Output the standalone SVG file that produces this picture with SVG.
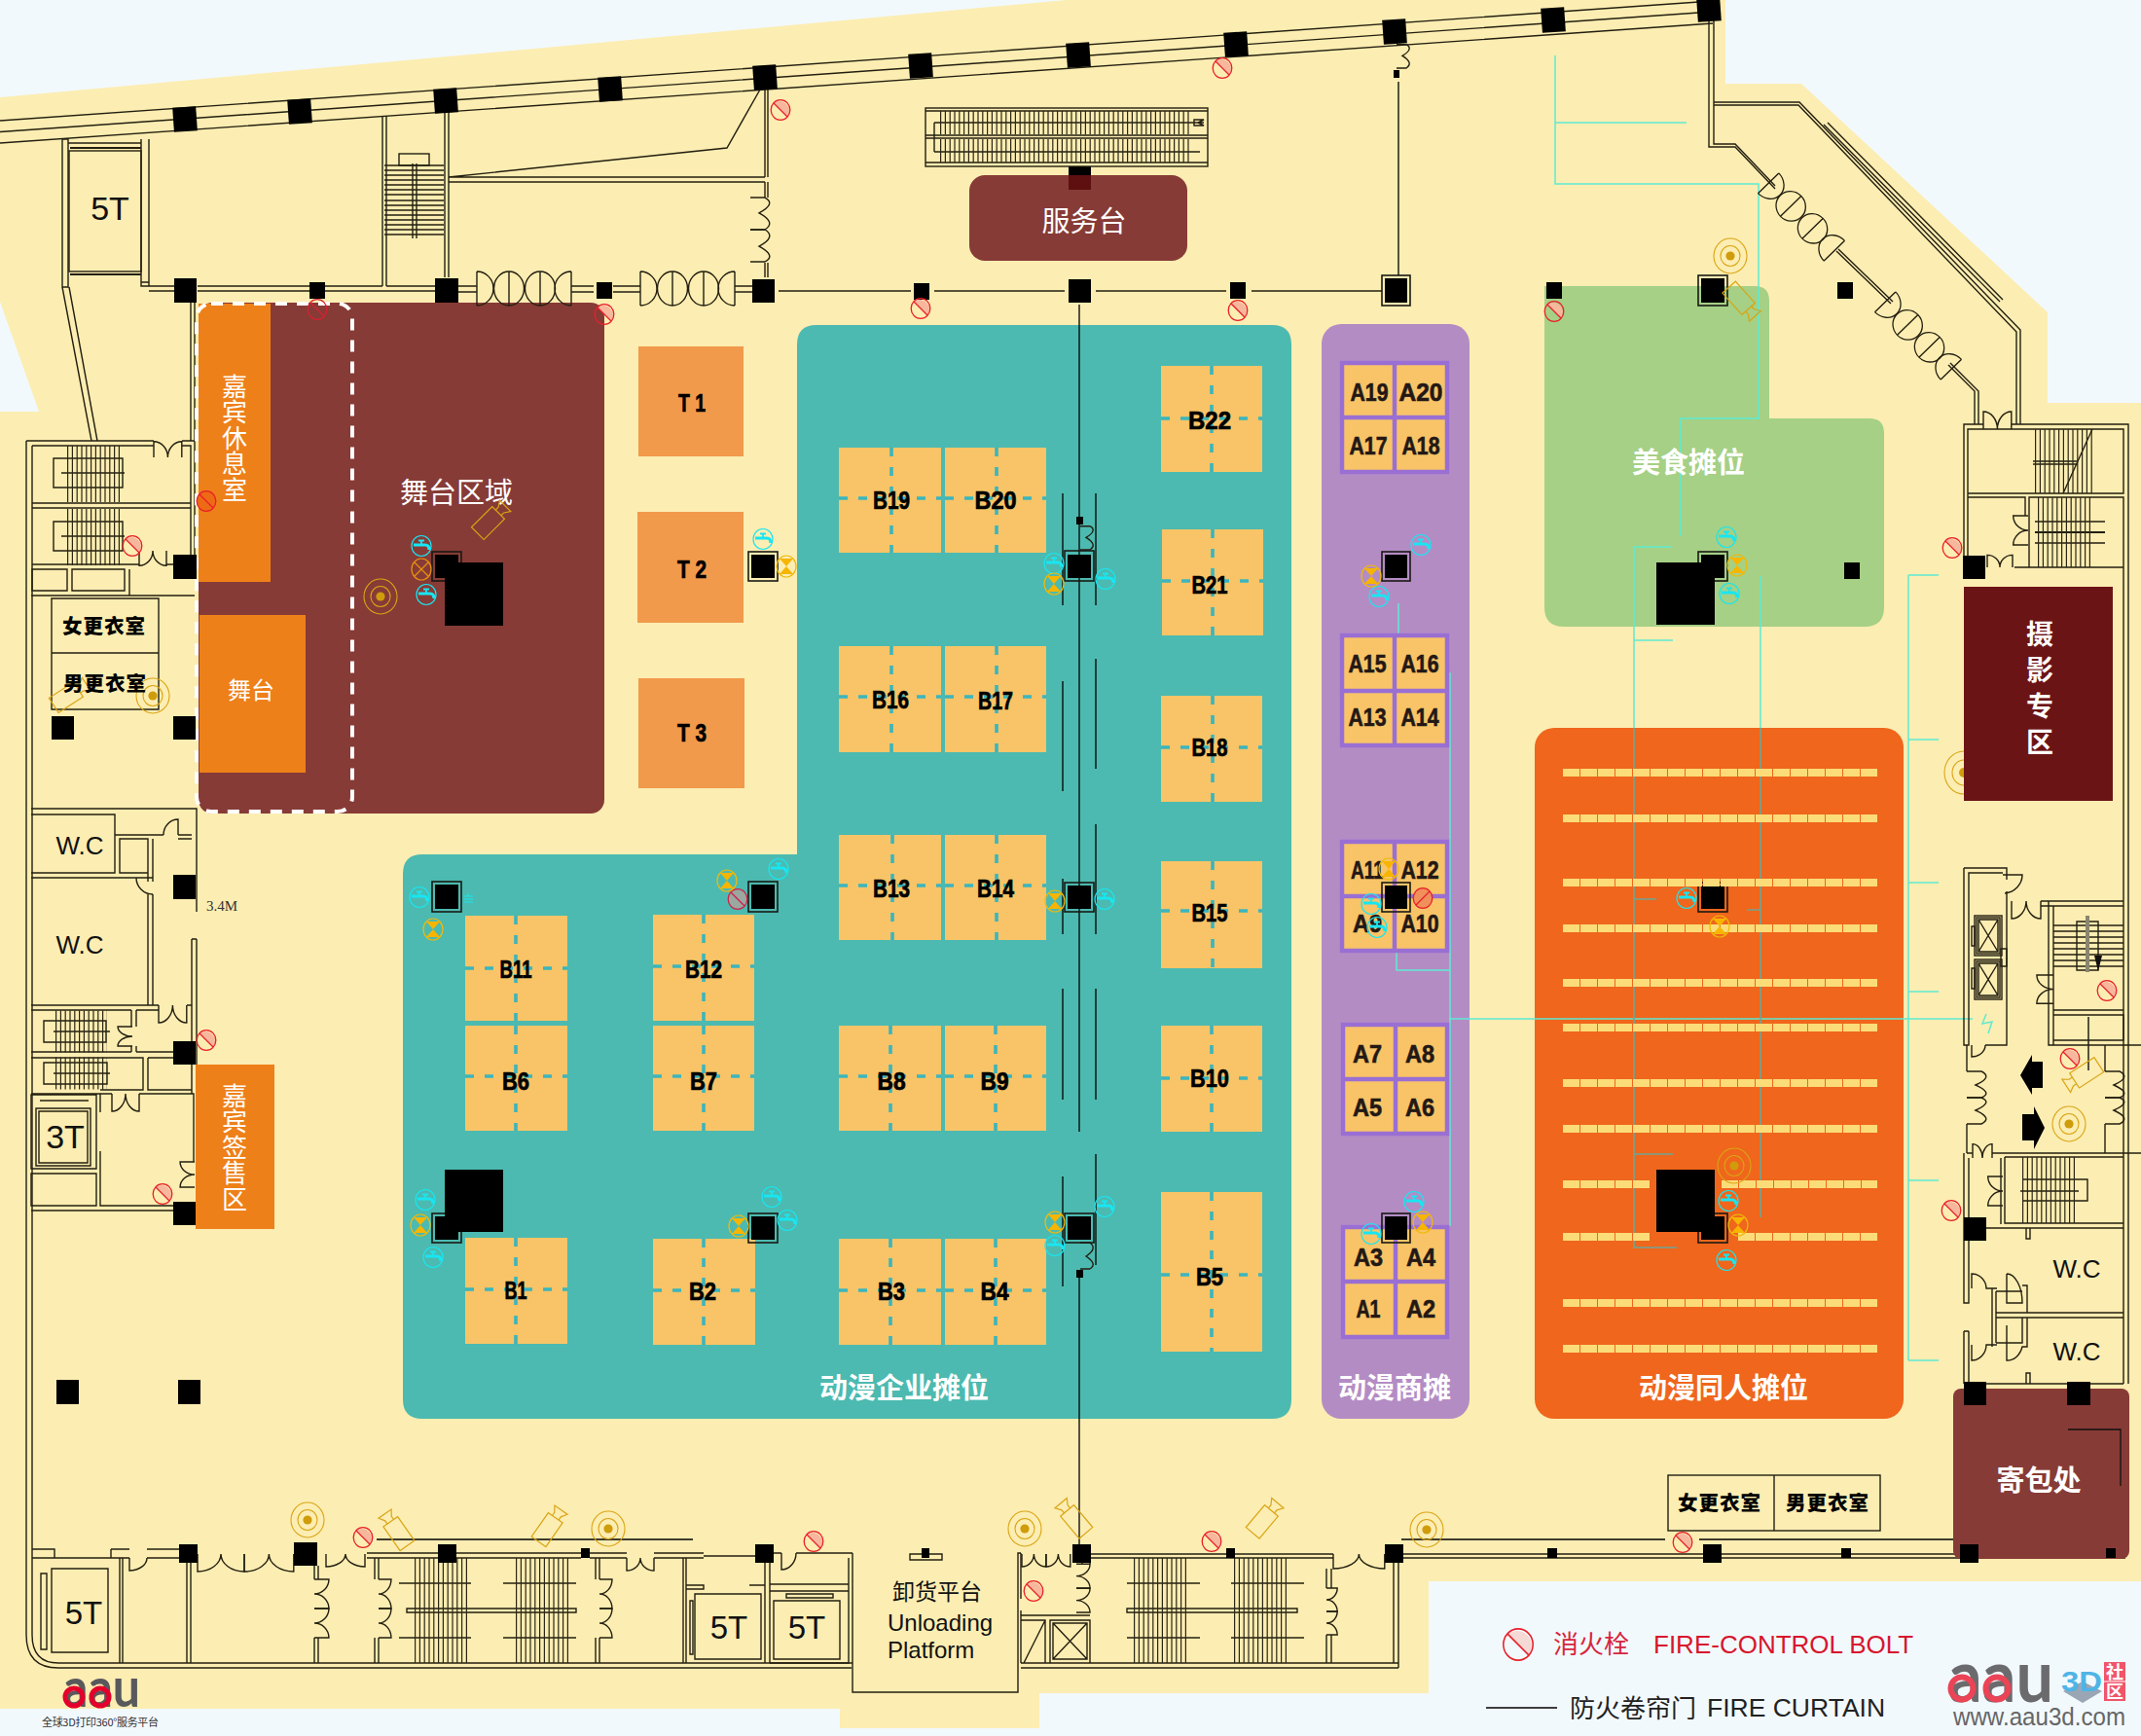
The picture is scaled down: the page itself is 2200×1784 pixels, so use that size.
<svg xmlns="http://www.w3.org/2000/svg" width="2200" height="1784" viewBox="0 0 2200 1784">
<style>
.w{fill:none;stroke:#231f10;stroke-width:1.4}
.w2{fill:none;stroke:#231f10;stroke-width:2}
.tr{fill:none;stroke:#2b2715;stroke-dasharray:1.2 3.6}
.c{fill:#000}
.fr{fill:none;stroke:#1a1a14;stroke-width:1.6}
.cy{fill:none;stroke:#5eead2;stroke-width:1.5}
.cyd{fill:none;stroke:#6fa596;stroke-width:1.6}
.st{fill:none;stroke:#fbdc78;stroke-width:8;stroke-dasharray:17 1}
.sl{fill:none;stroke:#000;stroke-width:1.3}
.b{fill:#f8c467}
.d{fill:none;stroke:#3bb5bd;stroke-width:3.6;stroke-dasharray:9 11}
.bt{font:bold 25px "Liberation Sans",sans-serif;fill:#000;stroke:#000;stroke-width:.7;text-anchor:middle}
.at{font:bold 25px "Liberation Sans",sans-serif;fill:#231815;stroke:#231815;stroke-width:.6;text-anchor:middle}
.af{fill:#f8c467;stroke:#9a6fd3;stroke-width:4.5}
.zh{font-family:"Noto Sans CJK SC",sans-serif;fill:#fff;text-anchor:middle}
.zb{font-family:"Noto Sans CJK SC",sans-serif;font-weight:700;fill:#fff;text-anchor:middle;font-size:29px}
.v{writing-mode:vertical-rl}
.bk{font-family:"Noto Sans CJK SC",sans-serif;font-weight:900;fill:#000;text-anchor:middle;font-size:20.5px;letter-spacing:1px}
.en{font-family:"Liberation Sans",sans-serif;fill:#111;text-anchor:middle}
.cam{fill:none;stroke:#d9a514;stroke-width:1.2}
.sy{vector-effect:non-scaling-stroke;fill:none;stroke:#231f10;stroke-width:1.4}
</style>
<defs>
<path id="dW" class="sy" d="M0 0V18A20 18 0 0 0 20 0M40 0V18A20 18 0 0 1 20 0M20 0V3"/>
<g id="dq" class="w"><path d="M0 0V35M0 0A17 17.5 0 0 1 0 35M97 0V35M97 0A17 17.5 0 0 0 97 35M33 0V35M65 0V35"/><ellipse cx="33" cy="17.5" rx="15.5" ry="17.5"/><ellipse cx="65" cy="17.5" rx="15.5" ry="17.5"/></g>
<g id="hy"><path d="M-7-7A10 10 0 0 1 7 7Z" fill="#f6b79d"/><ellipse rx="9.8" ry="10.4" fill="none" stroke="#e8202a" stroke-width="1.3"/><path d="M-7-7L7 7" stroke="#e8202a" stroke-width="1.3"/></g>
<g id="fa" fill="none" stroke="#18e6f2"><ellipse rx="10" ry="10.5" stroke-width="1.2"/><path d="M-8-1H4Q8-1 8 4" stroke-width="3.2"/><path d="M-3-5.5H3M0-5.5V-1" stroke-width="1.8"/></g>
<g id="hg"><ellipse rx="10" ry="11" fill="none" stroke="#f0b90b" stroke-width="1.2"/><path d="M-7-8H7L-7 8H7Z" fill="#f7b500"/></g>
<g id="tg"><ellipse rx="17" ry="18" fill="none" stroke="#d9a514" stroke-width="1.1"/><ellipse rx="10" ry="10.5" fill="none" stroke="#d9a514" stroke-width="1.1"/><circle r="4.6" fill="#cf9c0b"/></g>
<g id="cm" class="cam"><rect x="-20" y="-9" width="30" height="18"/><path d="M10-4L14-4 20-8V8L14 4H10"/></g>
<path id="s1" class="sy" d="M0 0H10Q18 6 6 14Q18 22 10 27M0 27H10"/>
</defs>

<!-- ground -->
<rect width="2200" height="1784" fill="#f2f9fd"/>
<path d="M0 100L1096 0H1773V86H1851L2104 321V414H2200V1625H1468V1740H1068V1776H863V1756H0V423H40L0 310Z" fill="#fcedb2"/>

<!-- zones -->
<g id="stage-area"><rect x="204" y="311" width="417" height="525" rx="14" fill="#873b36"/></g>
<g id="service"><rect x="996" y="180" width="224" height="88" rx="16" fill="#873b36"/><rect x="1098" y="171" width="23" height="9" fill="#000"/><rect x="1098" y="180" width="23" height="15" fill="#5e1010"/><text class="zh" x="1114" y="238" font-size="29">服务台</text></g>
<path id="teal" d="M839 334H1307Q1327 334 1327 354V1438Q1327 1458 1307 1458H434Q414 1458 414 1438V898Q414 878 434 878H819V354Q819 334 839 334Z" fill="#4cbab0"/>
<rect id="purple" x="1358" y="333" width="152" height="1125" rx="20" fill="#b48cc4"/>
<path id="green" d="M1587 294H1803Q1818 294 1818 309V430H1921Q1936 430 1936 445V624Q1936 644 1916 644H1607Q1587 644 1587 624Z" fill="#a5d085"/>
<rect id="orange" x="1577" y="748" width="379" height="710" rx="20" fill="#ef661c"/>

<!-- thin service lines -->
<g id="connectors">
<path class="cy" d="M1598 57V189H1807V430H1727V551M1598 126H1733M1679 748V562H1718M1679 658H1719M1809 748V592M1437 620V692H1490V1260M1435 960V997H1490M1489 1047H2027M1961 591V1398M1961 591H1992M1961 760H1992M1961 907H1992M1961 1019H1992M1961 1213H1992M1961 1398H1992M2041 1042L2037 1052 2047 1050 2043 1062"/>
<path class="cyd" d="M1679 748V1282H1723M1679 924H1702M1679 1186H1719M1809 748V1251M1795 935H1809"/>
<path class="sl" d="M1109 313V1163M1109 1306V1590M1437 84V283M1092 507V622M1092 700V813M1092 903V960M1092 1016V1130M1092 1209V1322M1126 507V622M1126 677V790M1126 847V960M1126 1016V1130M1126 1186V1300M2146 1045V1100"/>
</g>

<!-- top wall -->
<g id="walls">
<path class="w" d="M0 124L1760 1M0 135.500L1760 12M0 147L1760 24"/>
<!-- top left lift -->
<path class="w" d="M64 143V295H70V143ZM145 143V294H153V143M70 147H145M145 290H153M64 295L94 453M71 295L100 453M145 294H190M153 299H190"/>
<rect class="w" x="71" y="155" width="74" height="124"/><path class="w2" d="M72 152H145M72 282H145"/>
<!-- top wall interior -->
<path class="w" d="M393 119V294M397 119V294M457 103V285M461 103V285M461 182H786M461 187H786M461 182L747 152L781 92M786 92V182M789 92V182M786 187V203M789 187V203M786 270V285M789 270V285"/>
<rect class="w" x="410" y="158" width="31" height="12"/>
<path class="w" d="M395 170H456M395 175H456M395 180H456M395 185H456M395 190H456M395 195H456M395 200H456M395 206H456M395 211H456M395 216H456M395 221H456M395 226H456M395 231H456M395 236H456M395 241H456M424 168V245M428 168V245"/>
<!-- main row -->
<path class="w" d="M203 294H393M203 299H447M397 294H447M470 294H490M470 300H490M587 294H610M587 300H610M630 294H658M630 300H658M755 294H773M755 300H773M800 299H936M960 299H1094M1126 299H1260M1286 299H1420"/>
<use href="#dq" x="490" y="279"/><use href="#dq" x="658" y="279"/>
<use href="#s1" transform="translate(771,236) scale(1.5,-1.22)"/><use href="#s1" transform="translate(771,236) scale(1.5,1.22)"/>
<!-- escalator -->
<rect class="w" x="951" y="111" width="290" height="60"/>
<path class="w" d="M951 114H1241M951 139H1241M951 142H1241M951 167H1241M960 126V156M960 126H1237M960 156H1233M1227 123H1237L1231 126 1237 129H1227Z"/>
<line class="tr" x1="966" y1="126" x2="1223" y2="126" stroke-width="24"/><line class="tr" x1="966" y1="155" x2="1223" y2="155" stroke-width="24"/>
<!-- right upper wall -->
<path class="w" d="M1756 20V151H1783M1761 20V148H1783L1824 191M1756 151H1783L1824 194M1761 105H1849L2076 339V436M1761 108H1848L2072 341V436M1874 128L2055 310M1878 126L2058 308M1887 258L1943 312M1889 256L1945 310M2002 375L2029 402V436M2004 373L2033 402V436"/>
<use href="#dq" transform="translate(1851,223) rotate(45.700) scale(1,.85) translate(-48.500,-17.500)"/>
<use href="#dq" transform="translate(1971,345) rotate(45.700) scale(1,.85) translate(-48.500,-17.500)"/>
<!-- upper right stairs -->
<path class="w" d="M2018 595V436H2038M2067 436H2187V1422M2022 571V441H2182V507H2022M2022 511H2081V530M2022 511V571M2085 511H2182V583H2085ZM2070 583H2085M2182 583V1422M2089 474H2135M2089 477H2135M2091 536H2163M2091 558H2163"/>
<path class="w2" d="M2091 547H2163"/><path class="w" d="M2150 441L2135 474 2120 507"/>
<line class="tr" x1="2091" y1="474" x2="2150" y2="474" stroke-width="66"/><line class="tr" x1="2094" y1="547" x2="2150" y2="547" stroke-width="72"/>
<use href="#dW" transform="translate(2038,441) scale(.72,-1)"/><use href="#dW" transform="translate(2042,583) scale(.65,-.7)"/>
<use href="#dW" transform="translate(2084,530) rotate(90) scale(.75,.85)"/>
<!-- right mid block -->
<path class="w" d="M2018 892V1074H2023V897H2058M2018 892H2062V904M2062 916V1074H2040M2097 926H2182M2097 931H2182M2105 926V1074H2200M2110 931V1074M2110 1038H2182M2110 1043H2182V1069H2110ZM2110 951H2182M2110 957H2182M2110 963H2182M2110 969H2182M2110 975H2182M2110 981H2182M2110 987H2182M2110 993H2182M2134 947H2156V997H2134Z"/>
<path d="M2145 941V999" stroke="#8a8670" stroke-width="4" fill="none"/><path d="M2152 982H2160L2156 998Z" fill="#111"/>
<rect class="w" x="2029" y="941" width="28" height="41"/><rect class="w" x="2031" y="943" width="24" height="37"/><path class="w" d="M2033 945H2053V978H2033ZM2033 945L2053 978M2053 945L2033 978"/>
<rect class="w" x="2029" y="986" width="28" height="41"/><rect class="w" x="2031" y="988" width="24" height="37"/><path class="w" d="M2033 990H2053V1023H2033ZM2033 990L2053 1023M2053 990L2033 1023M2058 899H2078A20 19 0 0 1 2060 918M2056 975H2062V993H2056ZM2026 952H2029V972H2026ZM2026 995H2029V1016H2026ZM2026 1074V1086A14 12 0 0 0 2040 1074"/>
<use href="#dW" transform="translate(2067,926) scale(.75,1)"/><use href="#dW" transform="translate(2110,1002) rotate(90) scale(.73,.95)"/>
<path d="M2076 1105L2088 1084V1091H2099V1118H2088V1125Z" fill="#000"/><path d="M2101 1159L2090 1137V1145H2078V1172H2090V1181Z" fill="#000"/>
<path class="w" d="M2021 1074V1101M2021 1155V1185M2163 1074V1101M2163 1155V1185M2021 1185H2027M2047 1185H2200"/>
<use href="#s1" transform="translate(2021,1101) scale(1.5,1)"/><use href="#s1" transform="translate(2021,1155) scale(1.5,-1)"/><use href="#s1" transform="translate(2163,1101) scale(1.5,1)"/><use href="#s1" transform="translate(2163,1155) scale(1.5,-1)"/>
<path class="w" d="M2018 1185V1339H2023V1190M2018 1368V1422M2023 1368V1422M2018 1368H2023M2056 1190V1258M2060 1189V1257H2182M2060 1189H2182M2041 1262H2182M2082 1262V1273H2086V1262M2076 1224H2136M2078 1212H2145V1234H2078M2026 1324V1309A15 15 0 0 1 2041 1324H2052M2062 1309V1339H2078A16 30 0 0 0 2062 1309M2078 1321H2083V1349M2051 1327H2078M2051 1349H2182M2051 1354H2182M2047 1324V1384M2051 1327V1380M2051 1380H2078V1354M2026 1382V1398A15 16 0 0 0 2041 1382H2052M2062 1362V1398A16 20 0 0 0 2078 1384H2083V1354M2023 1422H2182M2082 1422V1411H2086V1422"/>
<line class="tr" x1="2078" y1="1223" x2="2134" y2="1223" stroke-width="68"/>
<use href="#dW" transform="translate(2027,1190) scale(.5,-.8)"/><use href="#dW" transform="translate(2058,1209) rotate(90) scale(.75,.85)"/>
<!-- left block -->
<path class="w" d="M196 310V453M200 310V453M27 453V1680Q27 1714 60 1714H875M33 1601V1680Q33 1709 60 1709H875M33 458V1601M27 453H158M187 453H200V580M33 458H158M187 458H196V580M33 517H196M33 522H196M33 580H143M171 580H196M63 486H128M63 551H128"/>
<path class="w" d="M55 471H126V501H55ZM55 536H126V566H55ZM33 585H69V607H33ZM74 585H128V607H74ZM133 585V612M32 612H200M53 615H163V729H53ZM53 671H163M32 831H202V937M32 837H118V897H32M118 858H168M183 858H197M123 862H152V897H123ZM183 862H197M152 862V906M157 862V906M152 919V1033M157 919V1033M32 902H140M32 1033H163M32 1038H135M140 1038H163M192 1033H197M197 965V1124M202 965V1094M197 965H202M32 1081H135M140 1081H178M135 1038V1055M140 1038V1055M135 1075V1081M140 1075V1081M45 1049H109V1071H45ZM55 1060H113M32 1087H147V1120H103M45 1092H110V1114H45ZM55 1103H113M152 1087H197M152 1087V1120H197M32 1124H115M143 1124H199V1194M103 1124V1143M103 1183V1239H178M32 1125H99V1201H32ZM37 1139H93V1198H37ZM40 1142H90V1195H40ZM41 1131H91M32 1206H99V1239H32ZM32 1244H178"/>
<line class="tr" x1="69" y1="487" x2="126" y2="487" stroke-width="58"/><line class="tr" x1="69" y1="552" x2="126" y2="552" stroke-width="58"/><line class="tr" x1="57" y1="1060" x2="110" y2="1060" stroke-width="43"/><line class="tr" x1="57" y1="1103" x2="110" y2="1103" stroke-width="33"/>
<use href="#dW" transform="translate(158,470) scale(.72,-.9)"/><use href="#dW" transform="translate(143,566) scale(.7,.85)"/><use href="#dW" transform="translate(163,1033) scale(.72,1)"/><use href="#dW" transform="translate(115,1124) scale(.7,1)"/>
<use href="#dW" transform="translate(136,1055) rotate(90) scale(.5,.83)"/><use href="#dW" transform="translate(200,1194) rotate(90) scale(.65,.83)"/>
<path class="w" d="M183 858V842A15 16 0 0 0 168 858M140 902A17 17 0 0 0 157 919M140 902H157"/>
<!-- bottom wall -->
<path class="w" d="M33 1592H56V1601H33M114 1592V1601H133M56 1601H114M114 1592H133M151 1592H184M151 1601H184M133 1601V1614A18 13 0 0 0 151 1601M377 1596H597M377 1601H597M606 1596H644M606 1601H644M672 1596H723M672 1601H723M723 1599H776M795 1596H803M818 1596H876M803 1596V1613A15 17 0 0 0 818 1596M876 1596V1739H1046V1596H1049M935 1597H968V1603H935ZM123 1601V1709M126 1601V1709M192 1606V1709M196 1606V1709M53 1612H111V1698H53ZM42 1617H48V1695H42ZM323 1609V1623M323 1683V1709M327 1609V1623M327 1683V1709M385 1601V1623M389 1601V1623M385 1683V1709M389 1683V1709M612 1601V1623M616 1601V1623M612 1683V1709M616 1683V1709M410 1627H484M517 1627H592M410 1683H484M517 1683H592M418 1653H592V1657H418ZM702 1601V1709M705 1601V1709M786 1606V1709M791 1606V1709M714 1638H782V1705H714ZM709 1645H712V1700H709ZM791 1635H872V1709H791M795 1645H863V1705H795ZM808 1638H856V1642H808ZM791 1628H872M705 1629H723V1633H705M770 1629H786V1633M872 1601V1651M872 1689V1709M875 1709H876"/>
<use href="#dW" transform="translate(203,1597) scale(1.2,1)"/><use href="#dW" transform="translate(251,1597) scale(1.27,1)"/><use href="#dW" transform="translate(335,1597) scale(1,.72)"/><use href="#dW" transform="translate(644,1601) scale(.7,.72)"/>
<use href="#dW" transform="translate(323,1653) rotate(-90) scale(.75,.83)"/><use href="#dW" transform="translate(323,1683) rotate(-90) scale(.75,.83)"/><use href="#dW" transform="translate(389,1653) rotate(-90) scale(.75,.72)"/><use href="#dW" transform="translate(389,1683) rotate(-90) scale(.75,.72)"/><use href="#dW" transform="translate(616,1653) rotate(-90) scale(.75,.72)"/><use href="#dW" transform="translate(616,1683) rotate(-90) scale(.75,.72)"/>
<line class="tr" x1="426" y1="1655" x2="481" y2="1655" stroke-width="108"/><line class="tr" x1="530" y1="1655" x2="585" y2="1655" stroke-width="108"/>
<path d="M387 1582H712M1440 1582H1711M1746 1582H2125M1527 1755H1600" class="sl"/>
<path class="w" d="M1049 1596V1643M1049 1655V1709M1121 1597H1370M1121 1601H1370M1442 1597H2184M1442 1601H2184M1049 1709H1437M1049 1714H1437M1432 1601V1709M1437 1601V1714M1049 1660H1120M1049 1665H1074V1709M1074 1665L1052 1709M1363 1612V1632M1363 1680V1709M1368 1612V1632M1368 1680V1709M1079 1665H1120V1709H1079ZM1082 1668H1117V1705H1082ZM1082 1668L1117 1705M1117 1668L1082 1705M1158 1627H1233M1265 1627H1340M1158 1683H1233M1265 1683H1340M1158 1653H1333V1657H1158ZM1120 1601V1607M1112 1601V1607"/>
<line class="tr" x1="1165" y1="1655" x2="1219" y2="1655" stroke-width="108"/><line class="tr" x1="1268" y1="1655" x2="1325" y2="1655" stroke-width="108"/>
<use href="#dW" transform="translate(1050,1597) scale(.62,.72)"/><use href="#dW" transform="translate(1075,1597) scale(.62,.72)"/><use href="#dW" transform="translate(1370,1597) scale(1.32,.83)"/>
<use href="#dW" transform="translate(1106,1632) rotate(-90) scale(.62,.78)"/><use href="#dW" transform="translate(1106,1657) rotate(-90) scale(.62,.78)"/>
<use href="#dW" transform="translate(1363,1656) rotate(-90) scale(.6,.62)"/><use href="#dW" transform="translate(1363,1680) rotate(-90) scale(.6,.62)"/>
<!-- door S curves -->
<use href="#s1" transform="translate(1110,565) scale(1,-.9)"/><use href="#s1" transform="translate(1110,1277)"/><use href="#s1" transform="translate(1435,70) scale(1,-.9)"/>
</g>

<!-- stage -->
<g id="stage-detail">
<g id="guest-room"><rect x="204" y="312" width="74" height="286" fill="#ee8019"/><text class="zh v" x="241" y="450" font-size="26" style="letter-spacing:.5px">嘉宾休息室</text></g>
<g id="stage"><rect x="205" y="632" width="109" height="162" fill="#ee8019"/><text class="zh" x="258" y="718" font-size="24">舞台</text></g>
<rect x="202" y="312" width="160" height="522" rx="15" fill="none" stroke="#fff" stroke-width="4" stroke-dasharray="12 10"/>
<text class="zh" x="469" y="517" font-size="29">舞台区域</text>
</g>

<!-- booths -->
<g id="booths-b">
<g id="B11"><rect class="b" x="478" y="941" width="105" height="108"/><path class="d" d="M478 995H583M530 941V1049"/><text class="bt" x="530" y="1005" textLength="33" lengthAdjust="spacingAndGlyphs">B11</text></g>
<g id="B12"><rect class="b" x="671" y="940" width="104" height="109"/><path class="d" d="M671 993H775M723 940V1049"/><text class="bt" x="723" y="1005" textLength="38" lengthAdjust="spacingAndGlyphs">B12</text></g>
<g id="B6"><rect class="b" x="478" y="1054" width="105" height="108"/><path class="d" d="M478 1106H583M530 1054V1162"/><text class="bt" x="530" y="1120" textLength="28" lengthAdjust="spacingAndGlyphs">B6</text></g>
<g id="B7"><rect class="b" x="671" y="1054" width="104" height="108"/><path class="d" d="M671 1106H775M723 1054V1162"/><text class="bt" x="723" y="1120" textLength="28" lengthAdjust="spacingAndGlyphs">B7</text></g>
<g id="B8"><rect class="b" x="862" y="1054" width="105" height="108"/><path class="d" d="M862 1106H967M915 1054V1162"/><text class="bt" x="916" y="1120" textLength="29" lengthAdjust="spacingAndGlyphs">B8</text></g>
<g id="B9"><rect class="b" x="971" y="1054" width="104" height="108"/><path class="d" d="M971 1106H1075M1023 1054V1162"/><text class="bt" x="1022" y="1120" textLength="29" lengthAdjust="spacingAndGlyphs">B9</text></g>
<g id="B13"><rect class="b" x="862" y="858" width="105" height="108"/><path class="d" d="M862 910H967M917 858V966"/><text class="bt" x="916" y="922" textLength="38" lengthAdjust="spacingAndGlyphs">B13</text></g>
<g id="B14"><rect class="b" x="971" y="858" width="104" height="108"/><path class="d" d="M971 910H1075M1024 858V966"/><text class="bt" x="1023" y="922" textLength="38" lengthAdjust="spacingAndGlyphs">B14</text></g>
<g id="B1"><rect class="b" x="478" y="1272" width="105" height="109"/><path class="d" d="M478 1325H583M530 1272V1381"/><text class="bt" x="530" y="1335" textLength="23" lengthAdjust="spacingAndGlyphs">B1</text></g>
<g id="B2"><rect class="b" x="671" y="1273" width="105" height="109"/><path class="d" d="M671 1326H776M723 1273V1382"/><text class="bt" x="722" y="1336" textLength="28" lengthAdjust="spacingAndGlyphs">B2</text></g>
<g id="B3"><rect class="b" x="862" y="1273" width="105" height="109"/><path class="d" d="M862 1326H967M915 1273V1382"/><text class="bt" x="916" y="1336" textLength="28" lengthAdjust="spacingAndGlyphs">B3</text></g>
<g id="B4"><rect class="b" x="971" y="1273" width="104" height="109"/><path class="d" d="M971 1326H1075M1023 1273V1382"/><text class="bt" x="1022" y="1336" textLength="29" lengthAdjust="spacingAndGlyphs">B4</text></g>
<g id="B19"><rect class="b" x="862" y="460" width="105" height="108"/><path class="d" d="M862 512H967M916 460V568"/><text class="bt" x="916" y="523" textLength="38" lengthAdjust="spacingAndGlyphs">B19</text></g>
<g id="B20"><rect class="b" x="971" y="460" width="104" height="108"/><path class="d" d="M971 512H1075M1024 460V568"/><text class="bt" x="1023" y="523" textLength="43" lengthAdjust="spacingAndGlyphs">B20</text></g>
<g id="B16"><rect class="b" x="862" y="664" width="105" height="109"/><path class="d" d="M862 716H967M916 664V773"/><text class="bt" x="915" y="728" textLength="38" lengthAdjust="spacingAndGlyphs">B16</text></g>
<g id="B17"><rect class="b" x="971" y="664" width="104" height="109"/><path class="d" d="M971 716H1075M1024 664V773"/><text class="bt" x="1023" y="729" textLength="36" lengthAdjust="spacingAndGlyphs">B17</text></g>
<g id="B22"><rect class="b" x="1193" y="376" width="104" height="109"/><path class="d" d="M1193 430H1297M1245 376V485"/><text class="bt" x="1243" y="441" textLength="44" lengthAdjust="spacingAndGlyphs">B22</text></g>
<g id="B21"><rect class="b" x="1194" y="544" width="104" height="109"/><path class="d" d="M1194 597H1298M1246 544V653"/><text class="bt" x="1243" y="610" textLength="37" lengthAdjust="spacingAndGlyphs">B21</text></g>
<g id="B18"><rect class="b" x="1193" y="715" width="104" height="109"/><path class="d" d="M1193 768H1297M1246 715V824"/><text class="bt" x="1243" y="777" textLength="37" lengthAdjust="spacingAndGlyphs">B18</text></g>
<g id="B15"><rect class="b" x="1193" y="885" width="104" height="110"/><path class="d" d="M1193 936H1297M1246 885V995"/><text class="bt" x="1243" y="947" textLength="37" lengthAdjust="spacingAndGlyphs">B15</text></g>
<g id="B10"><rect class="b" x="1193" y="1054" width="104" height="109"/><path class="d" d="M1193 1108H1297M1245 1054V1163"/><text class="bt" x="1243" y="1117" textLength="40" lengthAdjust="spacingAndGlyphs">B10</text></g>
<g id="B5"><rect class="b" x="1193" y="1225" width="104" height="164"/><path class="d" d="M1193 1310H1297M1245 1225V1389"/><text class="bt" x="1243" y="1321" textLength="28" lengthAdjust="spacingAndGlyphs">B5</text></g>
</g>
<g id="booths-a">
<g id="A17-20"><rect class="af" x="1379" y="373" width="108" height="112"/><path class="af" d="M1433 373V485M1379 429H1487"/></g>
<g id="A13-16"><rect class="af" x="1379" y="653" width="108" height="113"/><path class="af" d="M1433 653V766M1379 710H1487"/></g>
<g id="A9-12"><rect class="af" x="1379" y="865" width="108" height="112"/><path class="af" d="M1433 865V977M1379 921H1487"/></g>
<g id="A5-8"><rect class="af" x="1380" y="1053" width="107" height="112"/><path class="af" d="M1434 1053V1165M1380 1109H1487"/></g>
<g id="A1-4"><rect class="af" x="1380" y="1261" width="107" height="113"/><path class="af" d="M1434 1261V1374M1380 1317H1487"/></g>
<g>
<text class="at" x="1407" y="412" textLength="39" lengthAdjust="spacingAndGlyphs">A19</text><text class="at" x="1460" y="412" textLength="45" lengthAdjust="spacingAndGlyphs">A20</text>
<text class="at" x="1406" y="467" textLength="39" lengthAdjust="spacingAndGlyphs">A17</text><text class="at" x="1460" y="467" textLength="39" lengthAdjust="spacingAndGlyphs">A18</text>
<text class="at" x="1405" y="691" textLength="39" lengthAdjust="spacingAndGlyphs">A15</text><text class="at" x="1459" y="691" textLength="39" lengthAdjust="spacingAndGlyphs">A16</text>
<text class="at" x="1405" y="746" textLength="39" lengthAdjust="spacingAndGlyphs">A13</text><text class="at" x="1459" y="746" textLength="39" lengthAdjust="spacingAndGlyphs">A14</text>
<text class="at" x="1405" y="903" textLength="34" lengthAdjust="spacingAndGlyphs">A11</text><text class="at" x="1459" y="903" textLength="39" lengthAdjust="spacingAndGlyphs">A12</text>
<text class="at" x="1405" y="958" textLength="30" lengthAdjust="spacingAndGlyphs">A9</text><text class="at" x="1459" y="958" textLength="39" lengthAdjust="spacingAndGlyphs">A10</text>
<text class="at" x="1405" y="1092" textLength="30" lengthAdjust="spacingAndGlyphs">A7</text><text class="at" x="1459" y="1092" textLength="30" lengthAdjust="spacingAndGlyphs">A8</text>
<text class="at" x="1405" y="1147" textLength="30" lengthAdjust="spacingAndGlyphs">A5</text><text class="at" x="1459" y="1147" textLength="30" lengthAdjust="spacingAndGlyphs">A6</text>
<text class="at" x="1406" y="1301" textLength="30" lengthAdjust="spacingAndGlyphs">A3</text><text class="at" x="1460" y="1301" textLength="30" lengthAdjust="spacingAndGlyphs">A4</text>
<text class="at" x="1406" y="1354" textLength="25" lengthAdjust="spacingAndGlyphs">A1</text><text class="at" x="1460" y="1354" textLength="30" lengthAdjust="spacingAndGlyphs">A2</text>
</g>
</g>
<g id="T1"><rect x="656" y="356" width="108" height="113" fill="#f19a4b"/><text class="bt" x="711" y="423" textLength="28" lengthAdjust="spacingAndGlyphs">T 1</text></g>
<g id="T2"><rect x="655" y="526" width="109" height="114" fill="#f19a4b"/><text class="bt" x="711" y="594" textLength="30" lengthAdjust="spacingAndGlyphs">T 2</text></g>
<g id="T3"><rect x="656" y="697" width="109" height="113" fill="#f19a4b"/><text class="bt" x="711" y="762" textLength="30" lengthAdjust="spacingAndGlyphs">T 3</text></g>

<!-- side rooms -->
<g id="photo"><rect x="2018" y="603" width="153" height="220" fill="#6b1416"/><text class="zh v" x="2096" y="711" font-size="28" font-weight="700" style="letter-spacing:9px">摄影专区</text></g>
<g id="bag"><rect x="2007" y="1427" width="181" height="175" rx="8" fill="#873b36"/><text class="zb" x="2095" y="1532" font-size="30">寄包处</text><path d="M2125 1469H2179V1527" fill="none" stroke="#111" stroke-width="1.300"/></g>
<g id="ticket"><rect x="201" y="1094" width="81" height="169" fill="#ee8019"/><text class="zh v" x="241" y="1179" font-size="26" style="letter-spacing:.5px">嘉宾签售区</text></g>

<!-- columns -->
<g id="columns">
<rect class="c" x="178" y="110" width="24" height="25" transform="rotate(-4 190 122)"/><rect class="c" x="296" y="102" width="24" height="25" transform="rotate(-4 308 114)"/><rect class="c" x="446" y="91" width="24" height="25" transform="rotate(-4 458 103)"/><rect class="c" x="615" y="79" width="24" height="25" transform="rotate(-4 627 91)"/><rect class="c" x="774" y="67" width="24" height="25" transform="rotate(-4 786 79)"/><rect class="c" x="934" y="55" width="24" height="25" transform="rotate(-4 946 67)"/><rect class="c" x="1096" y="44" width="24" height="25" transform="rotate(-4 1108 56)"/><rect class="c" x="1258" y="33" width="24" height="25" transform="rotate(-4 1270 45)"/><rect class="c" x="1421" y="20" width="24" height="25" transform="rotate(-4 1433 32)"/><rect class="c" x="1584" y="8" width="24" height="25" transform="rotate(-4 1596 20)"/><rect class="c" x="1744" y="-3" width="24" height="25" transform="rotate(-4 1756 10)"/>
<rect class="c" x="179" y="286" width="23" height="25"/><rect class="c" x="318" y="290" width="16" height="17"/><rect class="c" x="447" y="286" width="24" height="25"/><rect class="c" x="613" y="290" width="16" height="17"/><rect class="c" x="773" y="287" width="23" height="24"/><rect class="c" x="939" y="291" width="16" height="17"/><rect class="c" x="1098" y="287" width="23" height="24"/><rect class="c" x="1264" y="290" width="16" height="17"/><rect class="c" x="1589" y="290" width="16" height="17"/><rect class="c" x="1888" y="290" width="16" height="17"/>
<rect class="c" x="178" y="570" width="24" height="25"/><rect class="c" x="53" y="736" width="23" height="24"/><rect class="c" x="178" y="736" width="23" height="24"/><rect class="c" x="178" y="899" width="23" height="25"/><rect class="c" x="178" y="1070" width="23" height="24"/><rect class="c" x="178" y="1235" width="23" height="24"/>
<rect class="c" x="58" y="1418" width="23" height="25"/><rect class="c" x="183" y="1418" width="23" height="25"/>
<rect class="c" x="184" y="1587" width="19" height="19"/><rect class="c" x="302" y="1585" width="24" height="24"/><rect class="c" x="450" y="1587" width="19" height="19"/><rect class="c" x="597" y="1591" width="9" height="10"/><rect class="c" x="776" y="1587" width="19" height="19"/><rect class="c" x="947" y="1591" width="8" height="10"/><rect class="c" x="1102" y="1587" width="19" height="19"/><rect class="c" x="1260" y="1591" width="9" height="10"/><rect class="c" x="1423" y="1587" width="19" height="19"/><rect class="c" x="1590" y="1591" width="10" height="10"/><rect class="c" x="1750" y="1587" width="19" height="19"/><rect class="c" x="1892" y="1591" width="10" height="10"/><rect class="c" x="2014" y="1587" width="19" height="19"/><rect class="c" x="2164" y="1591" width="10" height="10"/>
<rect class="c" x="2017" y="571" width="23" height="24"/><rect class="c" x="2018" y="1251" width="23" height="24"/><rect class="c" x="2018" y="1420" width="23" height="24"/><rect class="c" x="2124" y="1420" width="24" height="24"/><rect class="c" x="1895" y="578" width="16" height="17"/>
<rect class="c" x="1106" y="531" width="7" height="8"/><rect class="c" x="1106" y="1305" width="7" height="8"/><rect class="c" x="1432" y="72" width="6" height="8"/>
<rect class="fr" x="1420" y="283" width="29" height="31"/><rect class="c" x="1423" y="286" width="23" height="25"/>
<rect class="fr" x="1745" y="283" width="30" height="31"/><rect class="c" x="1748" y="286" width="24" height="25"/>
<g id="framed"><rect class="fr" x="444" y="567" width="30" height="30"/><rect class="c" x="447" y="570" width="24" height="24"/><rect class="fr" x="769" y="567" width="30" height="30"/><rect class="c" x="772" y="570" width="24" height="24"/><rect class="fr" x="1094" y="566" width="30" height="31"/><rect class="c" x="1097" y="570" width="24" height="24"/><rect class="fr" x="1094" y="907" width="30" height="30"/><rect class="c" x="1097" y="910" width="24" height="24"/><rect class="fr" x="1094" y="1247" width="30" height="30"/><rect class="c" x="1097" y="1250" width="24" height="24"/><rect class="fr" x="444" y="906" width="30" height="31"/><rect class="c" x="447" y="909" width="24" height="25"/><rect class="fr" x="769" y="906" width="30" height="31"/><rect class="c" x="772" y="909" width="24" height="25"/><rect class="fr" x="444" y="1247" width="30" height="30"/><rect class="c" x="447" y="1250" width="24" height="24"/><rect class="fr" x="769" y="1247" width="30" height="30"/><rect class="c" x="772" y="1250" width="24" height="24"/><rect class="fr" x="1420" y="567" width="29" height="30"/><rect class="c" x="1423" y="570" width="23" height="24"/><rect class="fr" x="1420" y="907" width="29" height="30"/><rect class="c" x="1423" y="910" width="23" height="24"/><rect class="fr" x="1420" y="1247" width="29" height="30"/><rect class="c" x="1423" y="1250" width="23" height="24"/><rect class="fr" x="1745" y="567" width="30" height="30"/><rect class="c" x="1748" y="570" width="24" height="24"/><rect class="fr" x="1745" y="907" width="30" height="30"/><rect class="c" x="1748" y="910" width="24" height="24"/><rect class="fr" x="1745" y="1247" width="30" height="30"/><rect class="c" x="1748" y="1250" width="24" height="24"/></g>
</g>

<!-- orange stripes -->
<g id="stripes"><path class="st" d="M1606 794H1929M1606 841H1929M1606 907H1929M1606 954H1929M1606 1010H1929M1606 1056H1929M1606 1113H1929M1606 1160H1929M1606 1217H1695M1769 1217H1929M1606 1271H1695M1786 1271H1929M1606 1339H1929M1606 1386H1929"/></g>
<rect class="c" x="457" y="578" width="60" height="65"/><rect class="c" x="457" y="1202" width="60" height="64"/><rect class="c" x="1702" y="578" width="60" height="64"/><rect class="c" x="1702" y="1202" width="60" height="64"/>

<!-- symbols -->
<g id="hydrants"><use href="#hy" x="802" y="113"/><use href="#hy" x="1256" y="70"/><use href="#hy" x="946" y="317"/><use href="#hy" x="1272" y="319"/><use href="#hy" x="621" y="323"/><use href="#hy" x="136" y="561"/><use href="#hy" x="1597" y="320"/><use href="#hy" x="2006" y="563"/><use href="#hy" x="212" y="1069"/><use href="#hy" x="167" y="1227"/><use href="#hy" x="2005" y="1244"/><use href="#hy" x="2127" y="1088"/><use href="#hy" x="2165" y="1018"/><use href="#hy" x="373" y="1580"/><use href="#hy" x="836" y="1584"/><use href="#hy" x="1062" y="1635"/><use href="#hy" x="1245" y="1584"/><use href="#hy" x="1729" y="1585"/>
<g fill="none" stroke="#d92030" stroke-width="1.300"><ellipse cx="326" cy="318" rx="9.800" ry="10.400"/><path d="M319 311L333 325"/></g>
<g stroke="#e8202a" stroke-width="1.300"><ellipse cx="212" cy="515" rx="9.800" ry="10.400" fill="#ee6a15"/><path d="M205 508L219 522"/></g>
<g stroke="#d0204a" stroke-width="1.300"><ellipse cx="758" cy="924" rx="9.800" ry="10.400" fill="#9aa8a0"/><path d="M751 917L765 931"/></g>
<g stroke="#e8202a" stroke-width="1.300"><ellipse cx="1462" cy="923" rx="9.800" ry="10.400" fill="#f0905a"/><path d="M1455 930L1469 916"/></g>
</g>
<g id="faucets"><use href="#fa" x="433" y="561"/><use href="#fa" x="438" y="611"/><use href="#fa" x="784" y="554"/><use href="#fa" x="1083" y="579"/><use href="#fa" x="1136" y="595"/><use href="#fa" x="1135" y="924"/><use href="#fa" x="431" y="922"/><use href="#fa" x="800" y="893"/><use href="#fa" x="437" y="1233"/><use href="#fa" x="445" y="1292"/><use href="#fa" x="793" y="1230"/><use href="#fa" x="809" y="1254"/><use href="#fa" x="1135" y="1240"/><use href="#fa" x="1084" y="1280"/><use href="#fa" x="1460" y="560"/><use href="#fa" x="1417" y="613"/><use href="#fa" x="1409" y="929"/><use href="#fa" x="1415" y="953"/><use href="#fa" x="1453" y="1235"/><use href="#fa" x="1409" y="1268"/><use href="#fa" x="1776" y="1234"/><use href="#fa" x="1774" y="1295"/><use href="#fa" x="1774" y="552"/><use href="#fa" x="1777" y="610"/><use href="#fa" x="1733" y="923"/><path d="M477 921H486M477 924H486M477 927H486M481 918V921" stroke="#18e6f2" fill="none"/></g>
<g id="hourglasses"><g fill="none" stroke="#e8920f" stroke-width="1.200"><ellipse cx="433" cy="585" rx="10" ry="11"/><path d="M426 578L440 592M440 578L426 592"/></g><use href="#hg" x="808" y="582"/><use href="#hg" x="1083" y="600"/><use href="#hg" x="1084" y="926"/><use href="#hg" x="445" y="955"/><use href="#hg" x="747" y="905"/><use href="#hg" x="432" y="1259"/><use href="#hg" x="759" y="1260"/><use href="#hg" x="1084" y="1256"/><use href="#hg" x="1409" y="592"/><use href="#hg" x="1427" y="893"/><use href="#hg" x="1462" y="1256"/><use href="#hg" x="1786" y="1259"/><use href="#hg" x="1785" y="581"/><use href="#hg" x="1767" y="952"/></g>
<g id="targets"><use href="#tg" x="1778" y="263"/><use href="#tg" x="391" y="613"/><use href="#tg" x="157" y="715"/><use href="#tg" x="316" y="1562"/><use href="#tg" x="625" y="1571"/><use href="#tg" x="1053" y="1571"/><use href="#tg" x="1466" y="1572"/><use href="#tg" x="2126" y="1155"/><use href="#tg" x="1782" y="1198"/></g>
<g id="target-photo"><path d="M2018 772A20 22 0 0 0 2018 816M2018 781A12 13 0 0 0 2018 807" fill="none" stroke="#d9a514" stroke-width="1.100"/><path d="M2018 789A5 5 0 0 0 2018 799Z" fill="#cf9c0b"/></g>
<g id="cameras"><use href="#cm" transform="translate(505,534) rotate(-45)"/><use href="#cm" transform="translate(1790,310) rotate(48)"/><use href="#cm" transform="translate(72,714) rotate(-33)"/><use href="#cm" transform="translate(407,1572) rotate(235)"/><use href="#cm" transform="translate(565,1568) rotate(-55)"/><use href="#cm" transform="translate(1103,1560) rotate(230)"/><use href="#cm" transform="translate(1300,1560) rotate(-50)"/><use href="#cm" transform="translate(2140,1105) rotate(147)"/></g>

<!-- labels -->
<g id="labels">
<text class="en" x="113" y="226" font-size="34">5T</text><text class="en" x="82" y="878" font-size="26">W.C</text><text class="en" x="82" y="980" font-size="26">W.C</text><text class="en" x="67" y="1180" font-size="34">3T</text><text class="en" x="86" y="1669" font-size="33">5T</text><text class="en" x="749" y="1684" font-size="33">5T</text><text class="en" x="829" y="1684" font-size="33">5T</text><text class="en" x="2134" y="1313" font-size="26">W.C</text><text class="en" x="2134" y="1398" font-size="26">W.C</text>
<text x="212" y="936" font-family="Liberation Serif,serif" font-size="15" fill="#333">3.4M</text>
<text class="bk" x="107" y="651">女更衣室</text><text class="bk" x="108" y="710">男更衣室</text>
<g id="locker"><rect class="w" x="1714" y="1516" width="218" height="57"/><path class="w" d="M1823 1516V1573"/><text class="bk" x="1767" y="1552">女更衣室</text><text class="bk" x="1878" y="1552">男更衣室</text></g>
<text class="zh" x="963" y="1644" font-size="23" style="fill:#111">卸货平台</text>
<text x="912" y="1676" font-family="Liberation Sans,sans-serif" font-size="24" fill="#111">Unloading</text><text x="912" y="1704" font-family="Liberation Sans,sans-serif" font-size="24" fill="#111">Platform</text>
<text class="zb" x="929" y="1437">动漫企业摊位</text><text class="zb" x="1433" y="1437">动漫商摊</text><text class="zb" x="1771" y="1437">动漫同人摊位</text><text class="zb" x="1735" y="486">美食摊位</text>
</g>

<!-- legend -->
<g id="legend">
<g transform="translate(1560,1690) scale(1.55)"><path d="M-7-7A10 10 0 0 1 7 7Z" fill="#f5d9d5"/><ellipse rx="9.800" ry="10.400" fill="none" stroke="#e8202a"/><path d="M-7-7L7 7" stroke="#e8202a"/></g>
<text x="1596" y="1699" font-family="Noto Sans CJK SC,sans-serif" font-size="26" fill="#d7263d">消火栓</text>
<text x="1699" y="1699" font-family="Liberation Sans,sans-serif" font-size="26" fill="#d7162d">FIRE-CONTROL BOLT</text>
<text x="1613" y="1765" font-family="Noto Sans CJK SC,sans-serif" font-size="26" fill="#222">防火卷帘门</text>
<text x="1754" y="1764" font-family="Liberation Sans,sans-serif" font-size="26.500" fill="#222">FIRE CURTAIN</text>
</g>

<!-- logos -->
<g id="logo-left">
<text x="65" y="1754" font-family="Lato,sans-serif" font-weight="700" font-size="56" fill="#59595c" textLength="79" lengthAdjust="spacingAndGlyphs">aau</text>
<circle cx="76" cy="1744" r="9" fill="none" stroke="#e4002b" stroke-width="5"/><circle cx="103" cy="1744" r="9" fill="none" stroke="#e4002b" stroke-width="5"/>
<text x="43" y="1774" font-family="Noto Sans CJK SC,sans-serif" font-size="11" fill="#333" textLength="120">全球3D打印360°服务平台</text>
</g>
<g id="logo-right">
<text x="2002" y="1749" font-family="Lato,sans-serif" font-weight="700" font-size="74" fill="#6b6b6e" textLength="108" lengthAdjust="spacingAndGlyphs">aau</text>
<circle cx="2016" cy="1735" r="11.500" fill="none" stroke="#ea4456" stroke-width="6"/><circle cx="2052" cy="1735" r="11.500" fill="none" stroke="#ea4456" stroke-width="6"/>
<path d="M2120 1738L2140 1750 2160 1738 2140 1728Z" fill="#9aa6b4"/>
<text x="2118" y="1738" font-family="Liberation Sans,sans-serif" font-weight="700" font-size="30" fill="#4fb4e6" textLength="42" lengthAdjust="spacingAndGlyphs">3D</text>
<rect x="2162" y="1708" width="22" height="40" fill="#f0556a"/><path d="M2162 1728H2184" stroke="#fff"/>
<text x="2173" y="1725" font-family="Noto Sans CJK SC,sans-serif" font-weight="700" font-size="18" fill="#fff" text-anchor="middle">社</text><text x="2173" y="1745" font-family="Noto Sans CJK SC,sans-serif" font-weight="700" font-size="18" fill="#fff" text-anchor="middle">区</text>
<text x="2007" y="1773" font-family="Liberation Sans,sans-serif" font-size="25" fill="#666" textLength="177" lengthAdjust="spacingAndGlyphs">www.aau3d.com</text>
</g>
</svg>
